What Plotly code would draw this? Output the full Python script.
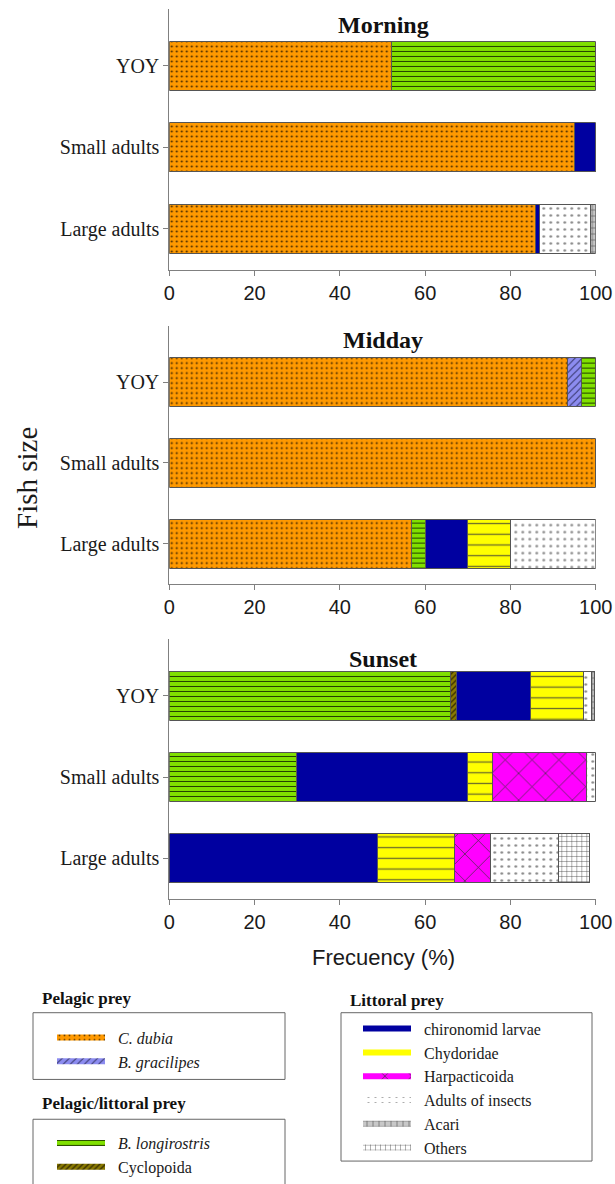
import plotly.graph_objects as go

W, H = 615, 1184

# ---------------- data ----------------
fish_sizes = ["Large adults", "Small adults", "YOY"]   # bottom -> top
x_ticks = [0, 20, 40, 60, 80, 100]
panel_titles = ["Morning", "Midday", "Sunset"]

prey = ["C. dubia", "B. gracilipes", "B. longirostris", "Cyclopoida",
        "chironomid larvae", "Chydoridae", "Harpacticoida",
        "Adults of insects", "Acari", "Others"]
prey_legend = ["legend", "legend", "legend2", "legend2",
               "legend3", "legend3", "legend3", "legend3", "legend3", "legend3"]
prey_label = ["<i>C. dubia</i>", "<i>B. gracilipes</i>", "<i>B. longirostris</i>",
              "Cyclopoida", "chironomid larvae", "Chydoridae", "Harpacticoida",
              "Adults of insects", "Acari", "Others"]

# frequency (%) for [Large adults, Small adults, YOY]
morning = {
    "C. dubia": [85.8, 95.0, 52.0],
    "B. longirostris": [0, 0, 48.0],
    "chironomid larvae": [1.0, 5.0, 0],
    "Adults of insects": [12.0, 0, 0],
    "Acari": [1.2, 0, 0],
}
midday = {
    "C. dubia": [56.8, 100.0, 93.3],
    "B. gracilipes": [0, 0, 3.3],
    "B. longirostris": [3.2, 0, 3.4],
    "chironomid larvae": [10.0, 0, 0],
    "Chydoridae": [10.1, 0, 0],
    "Adults of insects": [19.9, 0, 0],
}
sunset = {
    "B. longirostris": [0, 29.9, 66.0],
    "Cyclopoida": [0, 0, 1.4],
    "chironomid larvae": [48.9, 40.0, 17.2],
    "Chydoridae": [18.0, 5.9, 12.5],
    "Harpacticoida": [8.5, 22.1, 0],
    "Adults of insects": [15.9, 2.0, 2.0],
    "Acari": [0, 0, 0.7],
    "Others": [7.2, 0, 0],
}
panels = [morning, midday, sunset]

# ---------------- styles ----------------
styles = {
    "C. dubia": dict(color="#FF9900", shape=".", fg="#3d2400", size=5, sol=0.12),
    "B. gracilipes": dict(color="#8C8CF0", shape="/", fg="#333366", size=5, sol=0.2),
    "B. longirostris": dict(color="#80E000", shape="-", fg="#1a2e00", size=5, sol=0.18),
    "Cyclopoida": dict(color="#8A7A00", shape="/", fg="#3a3000", size=4, sol=0.35),
    "chironomid larvae": dict(color="#0000A0", shape="", fg="#0000A0", size=8, sol=0.3),
    "Chydoridae": dict(color="#FFFF00", shape="-", fg="#6b6b2a", size=10.7, sol=0.12),
    "Harpacticoida": dict(color="#FF00FF", shape="x", fg="#333333", size=19, sol=0.07),
    "Adults of insects": dict(color="#FFFFFF", shape=".", fg="#888888", size=7, sol=0.12),
    "Acari": dict(color="#C8C8C8", shape="+", fg="#555555", size=6, sol=0.2),
    "Others": dict(color="#FFFFFF", shape="+", fg="#333333", size=5, sol=0.15),
}


def pat(st):
    return dict(shape=st["shape"], bgcolor=st["color"], fgcolor=st["fg"],
                size=st["size"], solidity=st["sol"], fillmode="replace")


def px_x(p):
    return p / W


def px_y(p):
    return 1 - p / H


fig = go.Figure()

axis_suffix = ["", "2", "3"]
for i, panel in enumerate(panels):
    for name in prey:
        if name not in panel:
            continue
        st = styles[name]
        fig.add_trace(go.Bar(
            x=panel[name], y=fish_sizes, orientation="h", width=0.6,
            name=name, showlegend=False,
            marker=dict(color=st["color"], pattern=pat(st),
                        line=dict(color="#555555", width=1)),
            xaxis="x" + axis_suffix[i], yaxis="y" + axis_suffix[i],
            hovertemplate=name + ": %{x}%<extra></extra>",
        ))

# legend-only entries
for name, lab, leg in zip(prey, prey_label, prey_legend):
    st = styles[name]
    fig.add_trace(go.Scatter(
        x=[None], y=[None], mode="none", fill="toself",
        fillcolor=st["color"], fillpattern=pat(st),
        name="\u2002" + lab, legend=leg, showlegend=True, hoverinfo="skip",
    ))

y_domains = [(9, 270.7), (327, 586.7), (641.7, 902.7)]
x_domain = [px_x(169.3), px_x(595.7)]

serif = "Liberation Serif"
sans = "Liberation Sans"
axcol = "#808080"

layout = dict(
    width=W, height=H, barmode="stack",
    margin=dict(l=0, r=0, t=0, b=0),
    paper_bgcolor="white", plot_bgcolor="white",
    font=dict(family=serif, color="#1a1a1a"),
)
for i, (top, bot) in enumerate(y_domains):
    s = axis_suffix[i]
    layout["xaxis" + s] = dict(
        domain=x_domain, range=[0, 100], anchor="y" + s,
        tickvals=x_ticks, ticks="outside", ticklen=5, tickcolor=axcol,
        showline=True, linecolor=axcol, linewidth=1, showgrid=False,
        zeroline=False, automargin=False,
        tickfont=dict(family=sans, size=20, color="#1a1a1a"),
    )
    layout["yaxis" + s] = dict(
        domain=[px_y(bot), px_y(top)], anchor="x" + s,
        type="category", categoryorder="array", categoryarray=fish_sizes,
        range=[-0.5, 2.7], ticks="outside", ticklen=5, tickcolor=axcol,
        showline=True, linecolor=axcol, linewidth=1, showgrid=False,
        automargin=False,
        tickfont=dict(family=serif, size=20, color="#1a1a1a"),
    )

legend_common = dict(
    xanchor="left", yanchor="top", bgcolor="rgba(0,0,0,0)", borderwidth=0,
    font=dict(family=serif, size=16, color="#1a1a1a"), itemwidth=48,
    traceorder="normal",
)
layout["legend"] = dict(legend_common, x=px_x(52), y=px_y(1025))
layout["legend2"] = dict(legend_common, x=px_x(52), y=px_y(1131))
layout["legend3"] = dict(legend_common, x=px_x(358), y=px_y(1016))

annotations = []
title_y = [25, 341, 662]
for t, ty in zip(panel_titles, title_y):
    annotations.append(dict(text="<b>" + t + "</b>", x=px_x(383), y=px_y(ty),
                            xref="paper", yref="paper", showarrow=False,
                            xanchor="center", yanchor="middle",
                            font=dict(family=serif, size=24, color="#111")))
annotations.append(dict(text="Fish size", x=px_x(27), y=px_y(480),
                        xref="paper", yref="paper", showarrow=False, textangle=-90,
                        xanchor="center", yanchor="middle",
                        font=dict(family=serif, size=29, color="#1a1a1a")))
annotations.append(dict(text="Frecuency (%)", x=px_x(383), y=px_y(962),
                        xref="paper", yref="paper", showarrow=False,
                        xanchor="center", yanchor="middle",
                        font=dict(family=sans, size=22, color="#1a1a1a")))
for txt, hx, hy in [("Pelagic prey", 40, 1003), ("Pelagic/littoral prey", 40, 1108),
                    ("Littoral prey", 348, 1005)]:
    annotations.append(dict(text="<b>" + txt + "</b>", x=px_x(hx), y=px_y(hy),
                            xref="paper", yref="paper", showarrow=False,
                            xanchor="left", yanchor="middle",
                            font=dict(family=serif, size=17, color="#111")))
layout["annotations"] = annotations

shapes = []
for x0, y0, x1, y1 in [(33, 1017, 285, 1084), (33, 1124, 285, 1200), (341, 1017, 592, 1166)]:
    shapes.append(dict(type="rect", xref="paper", yref="paper",
                       x0=px_x(x0), x1=px_x(x1), y0=px_y(y1), y1=px_y(y0),
                       line=dict(color="#666666", width=1), fillcolor="rgba(0,0,0,0)",
                       layer="below"))
layout["shapes"] = shapes

fig.update_layout(**layout)
fig.write_html(
    "out.html",
    config={"displayModeBar": False},
    post_script="document.body.style.margin='0px';document.body.style.overflow='hidden';",
)
